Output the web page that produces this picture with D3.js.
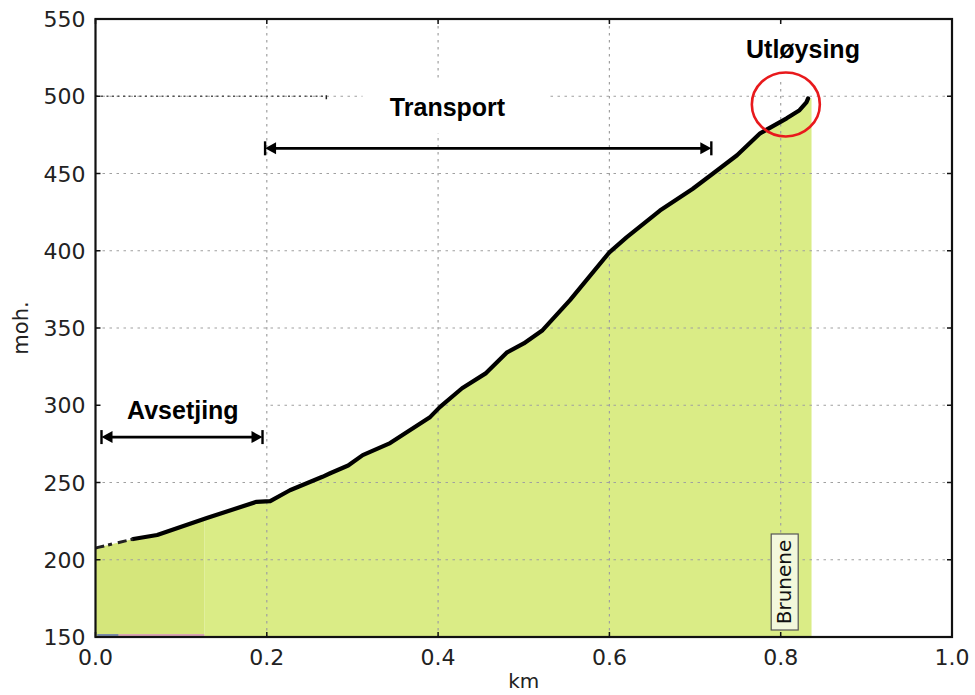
<!DOCTYPE html>
<html>
<head>
<meta charset="utf-8">
<script src="https://cdn.jsdelivr.net/npm/d3@7"></script>
<style>
  body { margin: 0; background: #fff; }
  svg { display: block; }
  .tick-label { font-family: "DejaVu Sans", sans-serif; font-size: 22px; fill: #222; }
  .note { font-family: "Liberation Sans", Arial, sans-serif; font-weight: bold; font-size: 25px; fill: #000; }
</style>
</head>
<body>
<div id="chart"></div>
<script>
// profile: distance (km) and height (moh.)
const profileKm = [0.0, 0.003, 0.044, 0.072, 0.13, 0.188, 0.204, 0.227, 0.265, 0.274, 0.295, 0.312,
  0.344, 0.39, 0.402, 0.428, 0.456, 0.48, 0.5, 0.522, 0.554, 0.6, 0.62, 0.659, 0.697, 0.721, 0.749,
  0.776, 0.807, 0.822, 0.83, 0.832]
const profileMoh = [207.5, 208, 213.4, 216, 227, 237.5, 238, 245, 253.7, 256, 261, 267.7,
  275.5, 292, 298.8, 311, 320.8, 334, 340, 348.6, 368, 399, 408.7, 426, 440, 450, 461.8,
  476, 485.7, 491, 496, 498.6]
const fillEndKm = 0.836
const darkFillEndKm = 0.127

const xTicks = [0.0, 0.2, 0.4, 0.6, 0.8, 1.0]
const yTicks = [150, 200, 250, 300, 350, 400, 450, 500, 550]

const spanAvsetjing = [0.007, 0.195]
const spanTransport = [0.198, 0.719]
const spanMoh = { avsetjing: 279.4, transport: 466.3 }

const labelText = ['Avsetjing', 'Transport', 'Utløysing']
const labelKm = [0.102, 0.411, 0.826]
const labelMoh = [291, 487, 525]

const circleAt = [0.806, 494.7]
const bruneneKm = 0.8

const width = 975
const height = 695
const margin = { top: 19, right: 23, bottom: 58, left: 95.5 }

const x = d3.scaleLinear().domain([0, 1]).range([margin.left, width - margin.right])
const y = d3.scaleLinear().domain([150, 550]).range([height - margin.bottom, margin.top])

const svg = d3.select('#chart')
  .append('svg')
  .attr('width', width)
  .attr('height', height)

const profile = profileKm.map((k, i) => [k, profileMoh[i]])
const fillData = profile.concat([[fillEndKm, profileMoh[profileMoh.length - 1]]])

// clips for the two green tones
const defs = svg.append('defs')
defs.append('clipPath').attr('id', 'clipLeft')
  .append('rect')
  .attr('x', x(0)).attr('y', y(550))
  .attr('width', x(darkFillEndKm) - x(0)).attr('height', y(150) - y(550))
defs.append('clipPath').attr('id', 'clipRight')
  .append('rect')
  .attr('x', x(darkFillEndKm)).attr('y', y(550))
  .attr('width', x(1) - x(darkFillEndKm)).attr('height', y(150) - y(550))

const area = d3.area()
  .x(d => x(d[0]))
  .y0(y(150))
  .y1(d => y(d[1]))

svg.append('path').datum(fillData)
  .attr('d', area).attr('fill', '#d5e67b').attr('clip-path', 'url(#clipLeft)')
svg.append('path').datum(fillData)
  .attr('d', area).attr('fill', '#daec86').attr('clip-path', 'url(#clipRight)')

// grid
const grid = svg.append('g').attr('stroke', '#a0a0a0').attr('stroke-width', 1.2)
  .attr('stroke-dasharray', '2.5,4.5')
grid.selectAll('.gx').data(xTicks.slice(1, -1)).enter().append('line')
  .attr('x1', d => x(d)).attr('x2', d => x(d))
  .attr('y1', y(550)).attr('y2', y(150))
grid.selectAll('.gy').data(yTicks.slice(1, -1)).enter().append('line')
  .attr('x1', x(0)).attr('x2', x(1))
  .attr('y1', d => y(d)).attr('y2', d => y(d))

// white label boxes that hide the grid behind the notes
const boxes = [
  { i: 0, dx0: -88, dx1: 83, dy0: -28, dy1: 8 },
  { i: 1, dx0: -85, dx1: 102, dy0: -36, dy1: 17 },
  { i: 2, dx0: -68, dx1: 67, dy0: -34, dy1: 23 }
]
svg.selectAll('.wbox').data(boxes).enter().append('rect')
  .attr('x', d => x(labelKm[d.i]) + d.dx0)
  .attr('y', d => y(labelMoh[d.i]) + d.dy0)
  .attr('width', d => d.dx1 - d.dx0)
  .attr('height', d => d.dy1 - d.dy0)
  .attr('fill', '#fff')

// darker leftover dotted line at 500
svg.append('line')
  .attr('x1', x(0)).attr('x2', x(0.27))
  .attr('y1', y(500)).attr('y2', y(500))
  .attr('stroke', '#555').attr('stroke-width', 1.3).attr('stroke-dasharray', '2,3.5')
svg.append('line')
  .attr('x1', x(0.2695)).attr('x2', x(0.2695))
  .attr('y1', y(500) - 1).attr('y2', y(500) + 3)
  .attr('stroke', '#222').attr('stroke-width', 1.5)

// thin coloured strip along the x axis
svg.append('line')
  .attr('x1', x(0.002)).attr('x2', x(0.027))
  .attr('y1', y(150) - 2).attr('y2', y(150) - 2)
  .attr('stroke', '#7b8aa8').attr('stroke-width', 2)
svg.append('line')
  .attr('x1', x(0.027)).attr('x2', x(darkFillEndKm))
  .attr('y1', y(150) - 2).attr('y2', y(150) - 2)
  .attr('stroke', '#d9a3b3').attr('stroke-width', 2)

// profile line
const line = d3.line().x(d => x(d[0])).y(d => y(d[1]))
svg.append('path').datum(profile.filter(d => d[0] >= 0.044))
  .attr('d', line).attr('fill', 'none')
  .attr('stroke', '#000').attr('stroke-width', 4.2)
  .attr('stroke-linejoin', 'round').attr('stroke-linecap', 'round')
svg.append('path').datum(profile.filter(d => d[0] <= 0.044))
  .attr('d', line).attr('fill', 'none')
  .attr('stroke', '#222').attr('stroke-width', 3)
  .attr('stroke-dasharray', '9,4,4,6')

// frame
svg.append('rect')
  .attr('x', x(0)).attr('y', y(550))
  .attr('width', x(1) - x(0)).attr('height', y(150) - y(550))
  .attr('fill', 'none').attr('stroke', '#111').attr('stroke-width', 2.2)

// inward ticks on all four sides
const ticks = svg.append('g').attr('stroke', '#111').attr('stroke-width', 1.5)
xTicks.forEach(t => {
  ticks.append('line').attr('x1', x(t)).attr('x2', x(t)).attr('y1', y(150)).attr('y2', y(150) - 5)
  ticks.append('line').attr('x1', x(t)).attr('x2', x(t)).attr('y1', y(550)).attr('y2', y(550) + 5)
})
yTicks.forEach(t => {
  ticks.append('line').attr('x1', x(0)).attr('x2', x(0) + 5).attr('y1', y(t)).attr('y2', y(t))
  ticks.append('line').attr('x1', x(1)).attr('x2', x(1) - 5).attr('y1', y(t)).attr('y2', y(t))
})

// tick labels
svg.selectAll('.xl').data(xTicks).enter().append('text')
  .attr('class', 'tick-label')
  .attr('x', d => x(d)).attr('y', y(150) + 28)
  .attr('text-anchor', 'middle')
  .text(d3.format('.1f'))
svg.selectAll('.yl').data(yTicks).enter().append('text')
  .attr('class', 'tick-label')
  .attr('x', x(0) - 10).attr('y', d => y(d) + 8)
  .attr('text-anchor', 'end')
  .text(d => d)

// axis titles
svg.append('text').attr('class', 'tick-label')
  .attr('x', (x(0) + x(1)) / 2).attr('y', 688)
  .attr('text-anchor', 'middle').style('font-size', '20px')
  .text('km')
svg.append('text').attr('class', 'tick-label')
  .attr('transform', `translate(28, ${(y(150) + y(550)) / 2}) rotate(-90)`)
  .attr('text-anchor', 'middle').style('font-size', '21px')
  .text('moh.')

// span arrows |<---->|
const drawSpan = (span, moh) => {
  const g = svg.append('g')
  const x0 = x(span[0])
  const x1 = x(span[1])
  const yy = y(moh)
  g.append('line').attr('x1', x0 + 4).attr('x2', x1 - 4).attr('y1', yy).attr('y2', yy)
    .attr('stroke', '#000').attr('stroke-width', 2.8)
  g.append('path').attr('d', `M${x0},${yy} L${x0 + 11},${yy - 6} L${x0 + 11},${yy + 6} Z`).attr('fill', '#000')
  g.append('path').attr('d', `M${x1},${yy} L${x1 - 11},${yy - 6} L${x1 - 11},${yy + 6} Z`).attr('fill', '#000')
  g.append('line').attr('x1', x0).attr('x2', x0).attr('y1', yy - 7).attr('y2', yy + 7)
    .attr('stroke', '#000').attr('stroke-width', 2.4)
  g.append('line').attr('x1', x1).attr('x2', x1).attr('y1', yy - 7).attr('y2', yy + 7)
    .attr('stroke', '#000').attr('stroke-width', 2.4)
}
drawSpan(spanAvsetjing, spanMoh.avsetjing)
drawSpan(spanTransport, spanMoh.transport)

// notes
svg.selectAll('.note').data(labelText).enter().append('text')
  .attr('class', 'note')
  .attr('x', (d, i) => x(labelKm[i])).attr('y', (d, i) => y(labelMoh[i]))
  .attr('text-anchor', 'middle')
  .text(d => d)

// red circle round the release zone
svg.append('ellipse')
  .attr('cx', x(circleAt[0])).attr('cy', y(circleAt[1]))
  .attr('rx', 34).attr('ry', 32)
  .attr('fill', 'none').attr('stroke', '#e8191c').attr('stroke-width', 2.6)

// Brunene place label
const bx = x(bruneneKm)
svg.append('rect')
  .attr('x', bx - 9.5).attr('y', 534)
  .attr('width', 27).attr('height', 96)
  .attr('fill', '#f3f8dc').attr('stroke', '#555').attr('stroke-width', 1.2)
svg.append('text')
  .attr('transform', `translate(${bx + 10.5}, 582) rotate(-90)`)
  .attr('text-anchor', 'middle')
  .style('font-family', '"DejaVu Sans", sans-serif')
  .style('font-size', '20px')
  .style('fill', '#111')
  .text('Brunene')
</script>
</body>
</html>
